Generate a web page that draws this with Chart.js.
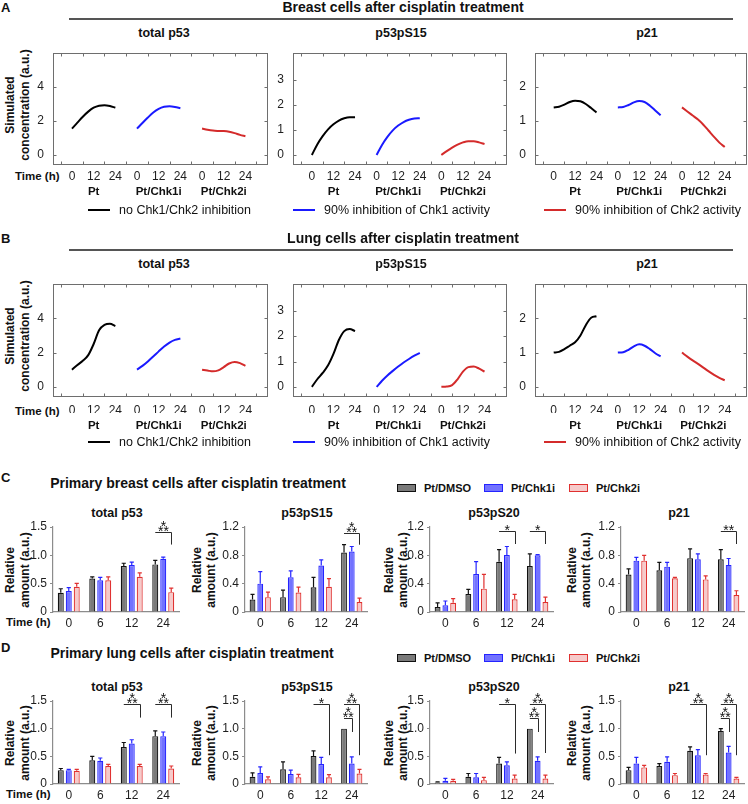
<!DOCTYPE html>
<html>
<head>
<meta charset="utf-8">
<title>Chk1/Chk2 inhibition and p53 signalling after cisplatin</title>
<script src="https://cdn.jsdelivr.net/npm/chart.js@4.4.1/dist/chart.umd.min.js"></script>
<style>
  body { margin: 0; background: #fff; }
  #fig { position: relative; width: 748px; height: 804px; overflow: hidden;
         font-family: "Liberation Sans", Arial, sans-serif; color: #111; }
  #fig .t { position: absolute; white-space: nowrap; line-height: 1; }
  #fig canvas { position: absolute; }
</style>
</head>
<body>
<div id="fig"></div>
<script>
// ---- simulated time courses (A, B), sampled every 3 h ----
var simHours = [0, 3, 6, 9, 12, 15, 18, 21, 24];
var simHourLabels = [0, 12, 24];
var simGroups = ['Pt', 'Pt/Chk1i', 'Pt/Chk2i'];
var simLegend = ['no Chk1/Chk2 inhibition', '90% inhibition of Chk1 activity', '90% inhibition of Chk2 activity'];

// rows: Pt, Pt/Chk1i, Pt/Chk2i
var breastP53 = [
  [1.55, 1.9, 2.25, 2.55, 2.78, 2.9, 2.93, 2.88, 2.78],
  [1.55, 1.88, 2.2, 2.5, 2.72, 2.84, 2.87, 2.83, 2.75],
  [1.55, 1.48, 1.43, 1.41, 1.4, 1.36, 1.28, 1.18, 1.1]
];
var breastPS15 = [
  [0, 0.42, 0.75, 1.02, 1.22, 1.37, 1.46, 1.5, 1.5],
  [0, 0.4, 0.72, 0.98, 1.17, 1.31, 1.4, 1.45, 1.46],
  [0, 0.15, 0.29, 0.41, 0.5, 0.55, 0.55, 0.5, 0.43]
];
var breastP21 = [
  [1.4, 1.42, 1.48, 1.56, 1.6, 1.58, 1.5, 1.38, 1.25],
  [1.4, 1.41, 1.47, 1.55, 1.59, 1.56, 1.45, 1.31, 1.17],
  [1.4, 1.28, 1.16, 1.04, 0.89, 0.71, 0.53, 0.36, 0.23]
];
var lungP53 = [
  [1.0, 1.27, 1.52, 1.85, 2.5, 3.3, 3.62, 3.68, 3.55],
  [1.0, 1.22, 1.48, 1.77, 2.07, 2.35, 2.58, 2.74, 2.82],
  [1.0, 0.95, 0.9, 0.96, 1.15, 1.36, 1.45, 1.38, 1.22]
];
var lungPS15 = [
  [0, 0.3, 0.55, 0.85, 1.3, 1.85, 2.2, 2.28, 2.2],
  [0, 0.24, 0.45, 0.63, 0.8, 0.96, 1.1, 1.23, 1.34],
  [0, 0.01, 0.07, 0.3, 0.6, 0.78, 0.8, 0.72, 0.6]
];
var lungP21 = [
  [1.0, 1.02, 1.1, 1.2, 1.3, 1.5, 1.8, 2.02, 2.06],
  [1.0, 1.01, 1.08, 1.18, 1.24, 1.2, 1.1, 0.98, 0.89],
  [1.0, 0.88, 0.77, 0.67, 0.56, 0.45, 0.35, 0.26, 0.19]
];

// ---- measured protein levels (C, D) ----
var timeLabels = ['0', '6', '12', '24'];
var barSeries = ['Pt/DMSO', 'Pt/Chk1i', 'Pt/Chk2i'];
var ticks15 = [0, 0.5, 1.0, 1.5];
var ticks12 = [0, 0.4, 0.8, 1.2];

// rows: Pt/DMSO, Pt/Chk1i, Pt/Chk2i ; columns: 0, 6, 12, 24 h
var breastTotalMean = [[0.34, 0.59, 0.81, 0.84], [0.37, 0.56, 0.83, 0.94], [0.445, 0.56, 0.62, 0.35]];
var breastTotalErr  = [[0.07, 0.03, 0.05, 0.07], [0.06, 0.05, 0.05, 0.03], [0.06, 0.06, 0.07, 0.07]];
var breastS15Mean = [[0.175, 0.21, 0.35, 0.84], [0.40, 0.49, 0.655, 0.855], [0.21, 0.275, 0.355, 0.14]];
var breastS15Err  = [[0.075, 0.1, 0.14, 0.11], [0.17, 0.09, 0.08, 0.07], [0.07, 0.075, 0.115, 0.055]];
var breastS20Mean = [[0.07, 0.255, 0.71, 0.65], [0.095, 0.535, 0.805, 0.80], [0.13, 0.33, 0.18, 0.14]];
var breastS20Err  = [[0.06, 0.065, 0.17, 0.17], [0.06, 0.175, 0.12, 0.01], [0.06, 0.2, 0.07, 0.07]];
var breastP21Mean = [[0.53, 0.59, 0.76, 0.745], [0.725, 0.64, 0.745, 0.665], [0.725, 0.475, 0.46, 0.24]];
var breastP21Err  = [[0.08, 0.11, 0.13, 0.135], [0.045, 0.06, 0.075, 0.09], [0.075, 0.015, 0.05, 0.06]];

var lungTotalMean = [[0.25, 0.43, 0.67, 0.865], [0.25, 0.42, 0.73, 0.865], [0.24, 0.325, 0.325, 0.28]];
var lungTotalErr  = [[0.03, 0.07, 0.08, 0.095], [0.015, 0.05, 0.07, 0.075], [0.025, 0.03, 0.03, 0.045]];
var lungS15Mean = [[0.13, 0.265, 0.505, 1.0], [0.2, 0.18, 0.36, 0.37], [0.085, 0.12, 0.12, 0.19]];
var lungS15Err  = [[0.07, 0.135, 0.095, 0], [0.11, 0.07, 0.12, 0.12], [0.045, 0.055, 0.05, 0.075]];
var lungS20Mean = [[0.025, 0.13, 0.37, 1.0], [0.06, 0.12, 0.34, 0.42], [0.06, 0.07, 0.10, 0.10]];
var lungS20Err  = [[0.015, 0.06, 0.11, 0], [0.04, 0.07, 0.06, 0.07], [0.025, 0.05, 0.06, 0.06]];
var lungP21Mean = [[0.25, 0.325, 0.60, 0.96], [0.37, 0.40, 0.52, 0.57], [0.30, 0.16, 0.17, 0.10]];
var lungP21Err  = [[0.05, 0.045, 0.07, 0.04], [0.11, 0.09, 0.10, 0.11], [0.035, 0.03, 0.02, 0.02]];

// significance: [time index, from series, to series, bracket level, drop level, stars]
var breastTotalSig = [[3, 0, 2, 1.42, 1.19, '***']];
var breastS15Sig = [[3, 0, 2, 1.115, 0.95, '***']];
var breastS20Sig = [[2, 0, 2, 1.14, 0.96, '*'], [3, 0, 2, 1.14, 0.96, '*']];
var breastP21Sig = [[3, 0, 2, 1.14, 0.96, '**']];
var lungTotalSig = [[2, 0, 2, 1.44, 1.2, '***'], [3, 0, 2, 1.44, 1.2, '***']];
var lungS15Sig = [[2, 0, 2, 1.44, 0.52, '*'], [3, 0, 2, 1.44, 0.52, '***'], [3, 0, 1, 1.19, 0.94, '***']];
var lungS20Sig = [[2, 0, 2, 1.44, 0.55, '*'], [3, 0, 2, 1.44, 0.56, '***'], [3, 0, 1, 1.19, 0.94, '***']];
var lungP21Sig = [[2, 0, 2, 1.44, 0.52, '***'], [3, 0, 2, 1.44, 0.52, '***'], [3, 0, 1, 1.19, 0.94, '***']];

// ---- styling ----
var lineColors = ['#000000', '#1a1aff', '#d42b2b'];
var barFill = ['#7a7a7a', '#7272ff', '#f6caca'];
var barEdge = ['#111111', '#2424ff', '#e0302f'];
var segStart = [0, 36, 72];
var fontFamily = '"Liberation Sans", Arial, sans-serif';

Chart.defaults.font.family = fontFamily;
Chart.defaults.color = '#1e1e1e';

var fig = document.getElementById('fig');

function addText(str, x, y, size, bold, align, rotate) {
  var d = document.createElement('div');
  d.className = 't';
  d.textContent = str;
  d.style.left = x + 'px';
  d.style.top = y + 'px';
  d.style.fontSize = size + 'px';
  if (bold) d.style.fontWeight = 'bold';
  var tx = align === 'left' ? '0' : '-50%';
  d.style.transform = 'translate(' + tx + ',-50%)' + (rotate ? ' rotate(-90deg)' : '');
  fig.appendChild(d);
}

function addBox(x, y, w, h, css) {
  var d = document.createElement('div');
  d.style.cssText = 'position:absolute;box-sizing:border-box;left:' + x + 'px;top:' + y +
    'px;width:' + w + 'px;height:' + h + 'px;' + css;
  fig.appendChild(d);
}

function addCanvas(left, top, w, h) {
  var c = document.createElement('canvas');
  c.width = w;
  c.height = h;
  c.style.left = left + 'px';
  c.style.top = top + 'px';
  fig.appendChild(c);
  return c;
}

// box around the plot with inward ticks, like the original figure
var framePlugin = {
  id: 'frame',
  afterDraw: function(chart, args, opts) {
    var a = chart.chartArea, ctx = chart.ctx;
    var xs = chart.scales.x, ys = chart.scales.y;
    var l = Math.round(a.left) + 0.5, r = Math.round(a.right) - 0.5;
    var t = Math.round(a.top) + 0.5, b = Math.round(a.bottom) - 0.5;
    ctx.save();
    ctx.strokeStyle = '#6e6e6e';
    ctx.lineWidth = 1;
    ctx.strokeRect(l, t, r - l, b - t);
    ctx.beginPath();
    opts.xTicks.forEach(function(v) {
      var px = Math.round(xs.getPixelForValue(v)) + 0.5;
      ctx.moveTo(px, b); ctx.lineTo(px, b - 3);
      ctx.moveTo(px, t); ctx.lineTo(px, t + 3);
    });
    opts.yTicks.forEach(function(v) {
      var py = Math.round(ys.getPixelForValue(v)) + 0.5;
      ctx.moveTo(l, py); ctx.lineTo(l + 3, py);
      ctx.moveTo(r, py); ctx.lineTo(r - 3, py);
    });
    ctx.stroke();
    ctx.restore();
  }
};

// upper error bars
var errorBarPlugin = {
  id: 'errorBars',
  afterDatasetsDraw: function(chart) {
    var ctx = chart.ctx, ys = chart.scales.y;
    ctx.save();
    ctx.lineWidth = 1.2;
    chart.data.datasets.forEach(function(ds, i) {
      var meta = chart.getDatasetMeta(i);
      ctx.strokeStyle = ds.borderColor;
      meta.data.forEach(function(bar, j) {
        var err = ds.errors[j];
        if (!err) return;
        var top = ys.getPixelForValue(ds.data[j] + err);
        var cap = bar.width * 0.35;
        ctx.beginPath();
        ctx.moveTo(bar.x, bar.y);
        ctx.lineTo(bar.x, top);
        ctx.moveTo(bar.x - cap, top);
        ctx.lineTo(bar.x + cap, top);
        ctx.stroke();
      });
    });
    ctx.restore();
  }
};

// significance brackets with stars (three stars stacked as 1 over 2)
var sigPlugin = {
  id: 'sig',
  afterDatasetsDraw: function(chart, args, opts) {
    var ctx = chart.ctx, ys = chart.scales.y;
    ctx.save();
    ctx.strokeStyle = '#2b2b2b';
    ctx.fillStyle = '#111';
    ctx.lineWidth = 1;
    ctx.font = '14px ' + fontFamily;
    ctx.textAlign = 'center';
    ctx.textBaseline = 'alphabetic';
    (opts.marks || []).forEach(function(m) {
      var x1 = chart.getDatasetMeta(m[1]).data[m[0]].x;
      var x2 = Math.round(chart.getDatasetMeta(m[2]).data[m[0]].x) + 0.5;
      var y = Math.round(ys.getPixelForValue(m[3])) + 0.5;
      var yd = ys.getPixelForValue(m[4]);
      ctx.beginPath();
      ctx.moveTo(x1, y);
      ctx.lineTo(x2, y);
      ctx.lineTo(x2, yd);
      ctx.stroke();
      var cx = (x1 + x2) / 2;
      if (m[5] === '***') {
        ctx.fillText('*', cx, y - 1.5);
        ctx.fillText('**', cx, y + 3.5);
      } else {
        ctx.fillText(m[5], cx, y + 3);
      }
    });
    ctx.restore();
  }
};

function makeLinePanel(L, T, W, H, curves, yMin, yMax, yTicks, tickPad, groupPad) {
  var padL = 34, padT = 8, padR = 2, axisH = 16, groupH = 24;
  var c = addCanvas(L - padL, T - padT, padL + W + padR, padT + H + axisH + groupH);
  var xTickVals = [], frameX = [];
  segStart.forEach(function(s) {
    simHourLabels.forEach(function(h) { xTickVals.push(s + h); });
  });
  for (var v = -6; v <= 102; v += 12) frameX.push(v);

  var datasets = curves.map(function(vals, s) {
    return {
      data: vals.map(function(y, i) { return { x: simHours[i] + segStart[s], y: y }; }),
      borderColor: lineColors[s],
      borderWidth: 2,
      pointRadius: 0,
      fill: false,
      cubicInterpolationMode: 'monotone'
    };
  });

  new Chart(c, {
    type: 'line',
    data: { datasets: datasets },
    options: {
      responsive: false,
      animation: false,
      events: [],
      layout: { padding: { left: 0, top: padT, right: padR, bottom: 0 } },
      plugins: {
        legend: { display: false },
        tooltip: { enabled: false },
        frame: { xTicks: frameX, yTicks: yTicks }
      },
      scales: {
        x: {
          type: 'linear', min: -10.5, max: 108.5,
          grid: { display: false, drawTicks: false },
          border: { display: false },
          ticks: {
            padding: tickPad, autoSkip: false, maxRotation: 0, color: '#1e1e1e',
            font: { size: 12 },
            callback: function(v) { return String(v % 36); }
          },
          afterBuildTicks: function(s) { s.ticks = xTickVals.map(function(v) { return { value: v }; }); },
          afterFit: function(s) { s.height = axisH; }
        },
        xg: {
          type: 'linear', position: 'bottom', weight: 1, min: -10.5, max: 108.5,
          grid: { display: false, drawTicks: false },
          border: { display: false },
          ticks: {
            padding: groupPad, autoSkip: false, maxRotation: 0, color: '#111',
            font: { size: 11.5, weight: 'bold' },
            callback: function(v) { return simGroups[segStart.indexOf(v - 12)]; }
          },
          afterBuildTicks: function(s) {
            s.ticks = segStart.map(function(st) { return { value: st + 12 }; });
          },
          afterFit: function(s) { s.height = groupH; }
        },
        y: {
          min: yMin, max: yMax,
          grid: { display: false, drawTicks: false },
          border: { display: false },
          ticks: { padding: 9, color: '#1e1e1e', font: { size: 12 } },
          afterBuildTicks: function(s) { s.ticks = yTicks.map(function(v) { return { value: v }; }); },
          afterFit: function(s) { s.width = padL; }
        }
      }
    },
    plugins: [framePlugin]
  });
}

function makeBarPanel(L, T, W, H, means, errs, sig, yTicks, tickPad) {
  var padL = 36, padT = 16, padR = 4, axisH = 20;
  var c = addCanvas(L - padL, T - padT, padL + W + padR, padT + H + axisH);
  var datasets = means.map(function(m, s) {
    return {
      label: barSeries[s],
      data: m,
      errors: errs[s],
      backgroundColor: barFill[s],
      borderColor: barEdge[s],
      borderWidth: 1.2,
      barPercentage: 0.75,
      categoryPercentage: 0.76
    };
  });
  new Chart(c, {
    type: 'bar',
    data: { labels: timeLabels, datasets: datasets },
    options: {
      responsive: false,
      animation: false,
      events: [],
      layout: { padding: { left: 0, top: padT, right: padR, bottom: 0 } },
      plugins: {
        legend: { display: false },
        tooltip: { enabled: false },
        sig: { marks: sig }
      },
      scales: {
        x: {
          grid: { display: false, drawTicks: false },
          border: { display: true, color: '#8c8c8c', width: 1.2 },
          ticks: { padding: tickPad, color: '#1e1e1e', font: { size: 12 } },
          afterFit: function(s) { s.height = axisH; }
        },
        y: {
          min: 0, max: yTicks[yTicks.length - 1],
          grid: { drawOnChartArea: false, drawTicks: true, tickLength: 3, color: '#8c8c8c' },
          border: { display: true, color: '#8c8c8c', width: 1.2 },
          ticks: {
            padding: 3, color: '#1e1e1e', font: { size: 12 },
            callback: function(v) { return v === 0 ? '0' : v.toFixed(1); }
          },
          afterBuildTicks: function(s) { s.ticks = yTicks.map(function(v) { return { value: v }; }); },
          afterFit: function(s) { s.width = padL; }
        }
      }
    },
    plugins: [errorBarPlugin, sigPlugin]
  });
}

// ---- rows A and B: simulations ----
function simRow(letter, title, top, curves, tickPad, groupPad, tickY, legendY, H) {
  addText(letter, 1, top + 7, 13, true, 'left');
  addText(title, 403, top + 7, 14, true, 'center');
  addBox(69, top + 18, 664, 1.5, 'background:#555;');
  addText('total p53', 164, top + 33, 12.5, true, 'center');
  addText('p53pS15', 401, top + 33, 12.5, true, 'center');
  addText('p21', 647, top + 33, 12.5, true, 'center');
  addText('Simulated', 10, top + 105, 12, true, 'center', true);
  addText('concentration (a.u.)', 25, top + 105, 12, true, 'center', true);
  addText('Time (h)', 15, tickY, 11.5, true, 'left');

  makeLinePanel(53, top + 45, 215, H, curves[0], -0.6, 6, [0, 2, 4], tickPad, groupPad);
  makeLinePanel(293, top + 45, 214, H, curves[1], -0.4, 4.05, [0, 1, 2, 3], tickPad, groupPad);
  makeLinePanel(535, top + 45, 212, H, curves[2], -0.3, 3, [0, 1, 2], tickPad, groupPad);

  var sampleX = [88, 293, 544];
  simLegend.forEach(function(label, i) {
    addBox(sampleX[i], legendY - 1, 22, 2, 'background:' + lineColors[i] + ';');
    addText(label, sampleX[i] + 31, legendY, 12.5, false, 'left');
  });
}

simRow('A', 'Breast cells after cisplatin treatment', 0,
  [breastP53, breastPS15, breastP21], 4.5, 4, 177, 210, 120);
simRow('B', 'Lung cells after cisplatin treatment', 231,
  [lungP53, lungPS15, lungP21], 6.2, 5.6, 411.5, 442, 121);

// ---- rows C and D: measurements ----
var barPanelX = [[53, 126], [245, 122], [430, 123], [621, 123]];
var barTitles = ['total p53', 'p53pS15', 'p53pS20', 'p21'];
var barTitleX = [117, 307, 494, 679];
var yLabelX = [[10, 25], [197, 211], [389, 403], [572, 586]];

function barRow(letter, title, titleX, rowTop, plotTop, H, panels, tickPad, timeY) {
  addText(letter, 1, rowTop + 7, 13, true, 'left');
  addText(title, titleX, rowTop + 13, 14, true, 'center');
  var legX = [397, 484, 569];
  barSeries.forEach(function(name, i) {
    addBox(legX[i], rowTop + 14, 19, 8, 'background:' + barFill[i] + ';border:1.5px solid ' + barEdge[i] + ';');
    addText(name, legX[i] + 27, rowTop + 17.5, 11, true, 'left');
  });
  addText('Time (h)', 6, timeY, 11.5, true, 'left');
  panels.forEach(function(p, i) {
    addText(barTitles[i], barTitleX[i], plotTop - 14, 12.5, true, 'center');
    addText('Relative', yLabelX[i][0], plotTop + H / 2, 12, true, 'center', true);
    addText('amount (a.u.)', yLabelX[i][1], plotTop + H / 2, 12, true, 'center', true);
    makeBarPanel(barPanelX[i][0], plotTop, barPanelX[i][1], H, p[0], p[1], p[2], p[3], tickPad);
  });
}

barRow('C', 'Primary breast cells after cisplatin treatment', 198, 470, 527, 85, [
  [breastTotalMean, breastTotalErr, breastTotalSig, ticks15],
  [breastS15Mean, breastS15Err, breastS15Sig, ticks12],
  [breastS20Mean, breastS20Err, breastS20Sig, ticks12],
  [breastP21Mean, breastP21Err, breastP21Sig, ticks12]
], 4.5, 623);

barRow('D', 'Primary lung cells after cisplatin treatment', 192, 640, 701, 83, [
  [lungTotalMean, lungTotalErr, lungTotalSig, ticks15],
  [lungS15Mean, lungS15Err, lungS15Sig, ticks15],
  [lungS20Mean, lungS20Err, lungS20Sig, ticks15],
  [lungP21Mean, lungP21Err, lungP21Sig, ticks15]
], 4.1, 795);
</script>
</body>
</html>
